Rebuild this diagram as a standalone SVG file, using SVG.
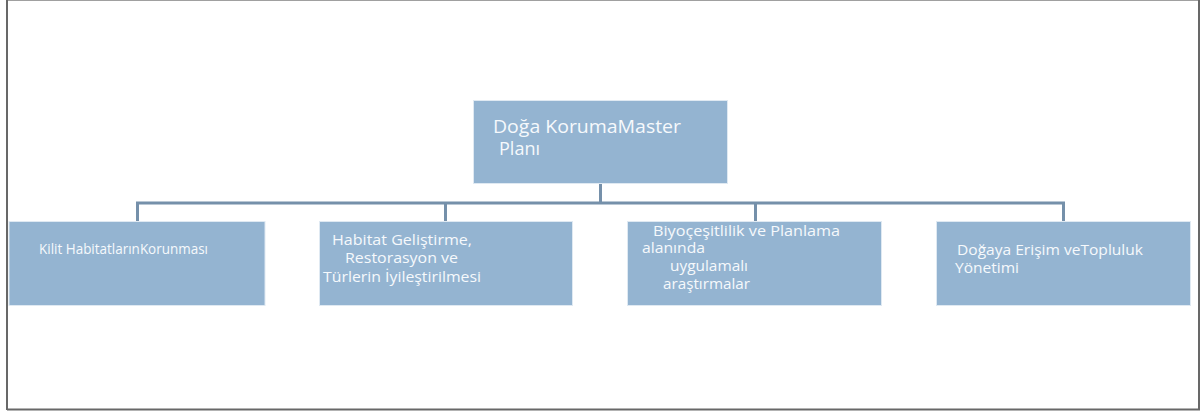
<svg xmlns="http://www.w3.org/2000/svg" width="1201" height="413" viewBox="0 0 1201 413">
<style>
.node{fill:#94b4d1;stroke:#dfe9f2;stroke-width:1}
.t{font-family:"Open Sans","Noto Sans","DejaVu Sans",sans-serif;fill:#f6f9fc}
.big{font-size:17.5px}
.sm{font-size:14px}
.conn{fill:none;stroke:#7590aa;stroke-width:3}
</style>
<rect width="1201" height="413" fill="#ffffff"/>
<rect x="7.5" y="0.5" width="1191" height="409" fill="none" stroke="#a0a0a0" stroke-width="1"/>
<path d="M7 0V410M1199 0V410M7 409.5H1200" fill="none" stroke="#686868" stroke-width="2"/>
<g id="connectors">
<path class="conn" d="M600.5 184V203M137.5 221V203H1063.5V221M445.5 203V221M755.5 203V221"/>
</g>
<g id="root">
<rect class="node" x="473.5" y="100.5" width="254" height="83"/>
<text class="t big" x="493" y="133" textLength="188" lengthAdjust="spacingAndGlyphs">Doğa KorumaMaster</text>
<text class="t big" x="499" y="155" textLength="41" lengthAdjust="spacingAndGlyphs">Planı</text>
</g>
<g id="n1">
<rect class="node" x="9" y="221.5" width="256" height="84"/>
<text class="t sm" x="39" y="254" textLength="169" lengthAdjust="spacingAndGlyphs">Kilit HabitatlarınKorunması</text>
</g>
<g id="n2">
<rect class="node" x="319.5" y="221.5" width="253" height="84"/>
<text class="t sm" x="332" y="245" textLength="140" lengthAdjust="spacingAndGlyphs">Habitat Geliştirme,</text>
<text class="t sm" x="345" y="263" textLength="113" lengthAdjust="spacingAndGlyphs">Restorasyon ve</text>
<text class="t sm" x="323" y="282" textLength="158" lengthAdjust="spacingAndGlyphs">Türlerin İyileştirilmesi</text>
</g>
<g id="n3">
<rect class="node" x="627.5" y="221.5" width="254" height="84"/>
<text class="t sm" x="653" y="236" textLength="187" lengthAdjust="spacingAndGlyphs">Biyoçeşitlilik ve Planlama</text>
<text class="t sm" x="642" y="253" textLength="63" lengthAdjust="spacingAndGlyphs">alanında</text>
<text class="t sm" x="670" y="271" textLength="78" lengthAdjust="spacingAndGlyphs">uygulamalı</text>
<text class="t sm" x="663" y="289" textLength="87" lengthAdjust="spacingAndGlyphs">araştırmalar</text>
</g>
<g id="n4">
<rect class="node" x="936.5" y="221.5" width="254" height="84"/>
<text class="t sm" x="957" y="255" textLength="186" lengthAdjust="spacingAndGlyphs">Doğaya Erişim veTopluluk</text>
<text class="t sm" x="955" y="273" textLength="64" lengthAdjust="spacingAndGlyphs">Yönetimi</text>
</g>
</svg>
